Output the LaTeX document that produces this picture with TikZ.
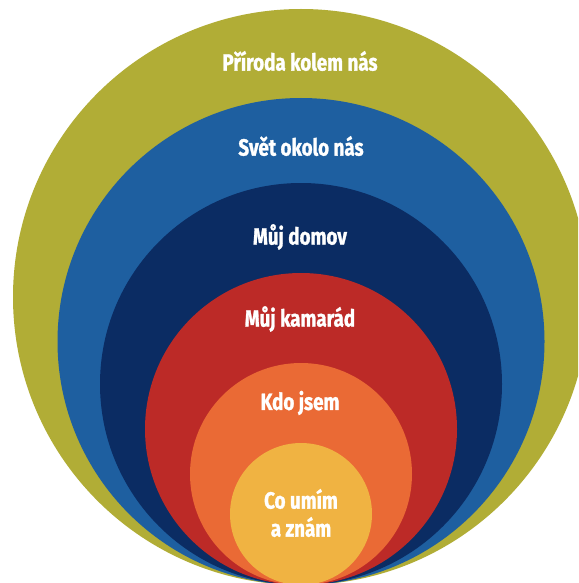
\documentclass[tikz,border=0pt]{standalone}
\usepackage{fontspec}
\setmainfont{Fira Sans}[BoldFont={Fira Sans Bold},BoldFeatures={FakeBold=1.2},FakeStretch=0.8]
\definecolor{colOlive}{HTML}{B1AD36}
\definecolor{colBlue}{HTML}{1E5FA0}
\definecolor{colNavy}{HTML}{0B2C63}
\definecolor{colRed}{HTML}{BC2A27}
\definecolor{colOrange}{HTML}{EA6A35}
\definecolor{colYellow}{HTML}{F0B342}
\tikzset{
  ring/.style={circle, inner sep=0pt, outer sep=0pt, anchor=south, draw=none},
  lbl/.style={text=white, font=\bfseries\fontsize{23.5}{28}\selectfont, align=center, inner sep=0pt}
}
\begin{document}
\begin{tikzpicture}[x=1pt,y=-1pt]
\useasboundingbox (0,0) rectangle (578,583);
\clip (0,0) rectangle (578,583);
\fill[white] (0,0) rectangle (578,583);
\coordinate (base) at (301,585);
\node[ring, fill=colOlive, minimum size=576pt] (c1) at (base) {};
\node[ring, fill=colBlue, minimum size=487pt] (c2) at (base) {};
\node[ring, fill=colNavy, minimum size=402pt] (c3) at (base) {};
\node[ring, fill=colRed, minimum size=312pt] (c4) at (base) {};
\node[ring, fill=colOrange, minimum size=222pt] (c5) at (base) {};
\node[ring, fill=colYellow, minimum size=142pt] (c6) at (base) {};
\node[lbl] (t1) at (300,61) {Příroda kolem nás};
\node[lbl] (t2) at (301,146) {Svět okolo nás};
\node[lbl] (t3) at (300,237) {Můj domov};
\node[lbl] (t4) at (300,319) {Můj kamarád};
\node[lbl] (t5) at (300,403) {Kdo jsem};
\node[lbl] (t6) at (301,513) {Co umím\\a znám};
\end{tikzpicture}
\end{document}
